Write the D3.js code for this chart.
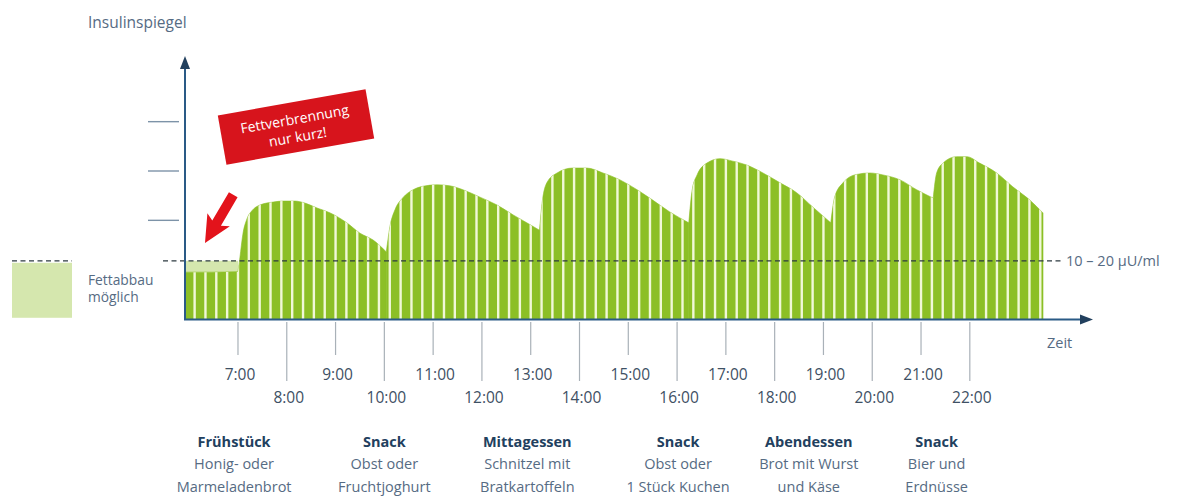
<!DOCTYPE html>
<html><head><meta charset="utf-8">
<script src="https://cdn.jsdelivr.net/npm/d3@7"></script>
<style>
html,body{margin:0;padding:0;background:#fff;}
svg{display:block;font-family:"Open Sans",Lato,sans-serif;}
</style></head>
<body>
<svg id="chart" width="1189" height="496"></svg>
<script>
// ---------- data ----------
// insulin level curve; a repeated hour marks the start of a new rise (meal)
const curveHours = [5.914, 6.45, 7.0,
  7.0, 7.04, 7.10, 7.18, 7.29, 7.45, 7.72, 7.92, 8.17, 8.37, 8.62, 8.89, 9.23, 9.50, 9.77, 10.04,
  10.04, 10.12, 10.22, 10.38, 10.59, 10.79, 11.08, 11.34, 11.61, 11.96, 12.31, 12.64, 12.92, 13.18,
  13.18, 13.24, 13.33, 13.54, 13.86, 14.15, 14.48, 14.83, 15.18, 15.50, 15.85, 16.24,
  16.24, 16.31, 16.41, 16.61, 16.88, 17.14, 17.43, 17.76, 18.11, 18.45, 18.78, 19.15,
  19.15, 19.23, 19.40, 19.48, 19.68, 19.95, 20.22, 20.57, 20.91, 21.25,
  21.25, 21.32, 21.45, 21.73, 21.94, 22.20, 22.55, 22.88, 23.23, 23.50];
const curveLevels = [0.95, 0.95, 0.96,
  0.96, 1.25, 1.72, 2.02, 2.20, 2.31, 2.37, 2.39, 2.39, 2.35, 2.25, 2.15, 1.95, 1.74, 1.60, 1.36,
  1.36, 1.90, 2.22, 2.46, 2.62, 2.69, 2.72, 2.70, 2.62, 2.47, 2.31, 2.11, 1.95, 1.80,
  1.80, 2.40, 2.76, 2.96, 3.06, 3.06, 2.96, 2.82, 2.62, 2.41, 2.17, 1.95,
  1.95, 2.62, 2.92, 3.16, 3.25, 3.20, 3.12, 2.96, 2.76, 2.56, 2.27, 1.95,
  1.95, 2.47, 2.76, 2.84, 2.93, 2.96, 2.92, 2.82, 2.62, 2.45,
  2.45, 2.96, 3.16, 3.29, 3.29, 3.16, 2.96, 2.68, 2.41, 2.15];
const tickHours = [7, 8, 9, 10, 11, 12, 13, 14, 15, 16, 17, 18, 19, 20, 21, 22];
const tickLabels = ["7:00","8:00","9:00","10:00","11:00","12:00","13:00","14:00","15:00","16:00","17:00","18:00","19:00","20:00","21:00","22:00"];
const yTicks = [2, 3, 4];
const threshold = 1.18;
const thresholdLabel = "10 – 20 µU/ml";
const mealHours = [6.92, 10.0, 12.93, 16.02, 18.7, 21.32];
const mealTitles = ["Frühstück", "Snack", "Mittagessen", "Snack", "Abendessen", "Snack"];
const mealLine1 = ["Honig- oder", "Obst oder", "Schnitzel mit", "Obst oder", "Brot mit Wurst", "Bier und"];
const mealLine2 = ["Marmeladenbrot", "Fruchtjoghurt", "Bratkartoffeln", "1 Stück Kuchen", "und Käse", "Erdnüsse"];
const stripeStep = 2 / 9; // hours between stripes

// ---------- scales ----------
const svg = d3.select("#chart");
const x = d3.scaleLinear().domain([5.914, 23.5]).range([185, 1043]);
const y = d3.scaleLinear().domain([0, 5.25]).range([319, 60]);

const GREEN = "#8cbf26", LIGHT = "#d5e7ae", STRIPE = "#f1f8d8";
const NAVY = "#2a5a86", TEXT = "#566b83", DARK = "#22405e";

// split into segments at repeated hours
const segments = [];
let cur = [];
curveHours.forEach((h, i) => {
  if (i > 0 && h === curveHours[i - 1]) { segments.push(cur); cur = []; }
  cur.push([h, curveLevels[i]]);
});
segments.push(cur);

const area = d3.area().x(d => x(d[0])).y0(y(0)).y1(d => y(d[1])).curve(d3.curveMonotoneX);
const fullPath = segments.map(s => area(s)).join(" ");

svg.append("defs").append("clipPath").attr("id", "areaClip")
  .append("path").attr("d", fullPath);

// light band (fat burning possible) at start
svg.append("rect")
  .attr("x", x(curveHours[0])).attr("width", x(7.0) - x(curveHours[0]))
  .attr("y", y(threshold)).attr("height", y(curveLevels[0]) - y(threshold))
  .attr("fill", LIGHT);

// area
svg.append("g").selectAll("path").data(segments).join("path")
  .attr("d", d => area(d)).attr("fill", GREEN)
  .attr("stroke", GREEN).attr("stroke-width", 0.6);

// stripes
const stripeHours = [];
for (let h = 7; h - stripeStep > curveHours[0]; h -= stripeStep) stripeHours.push(h - stripeStep);
for (let h = 7; h < 23.5; h += stripeStep) stripeHours.push(h);
svg.append("g").attr("clip-path", "url(#areaClip)")
  .selectAll("line").data(stripeHours).join("line")
  .attr("x1", d => x(d)).attr("x2", d => x(d))
  .attr("y1", y(5)).attr("y2", y(0))
  .attr("stroke", STRIPE).attr("stroke-width", 2.4);

// threshold dashed line
svg.append("line")
  .attr("x1", 163).attr("x2", 1063).attr("y1", y(threshold)).attr("y2", y(threshold))
  .attr("stroke", "#2d3a40").attr("stroke-width", 1.2).attr("stroke-dasharray", "5,3.5");
svg.append("text").attr("x", 1066).attr("y", y(threshold)).attr("dy", "0.35em")
  .attr("font-size", 14.5).attr("fill", TEXT).text(thresholdLabel);

// legend box
svg.append("rect").attr("x", 12).attr("y", y(threshold) + 2).attr("width", 60).attr("height", 55).attr("fill", LIGHT);
svg.append("line").attr("x1", 12).attr("x2", 72).attr("y1", y(threshold)).attr("y2", y(threshold))
  .attr("stroke", "#2d3a40").attr("stroke-width", 1.2).attr("stroke-dasharray", "5,3.5");
svg.append("text").attr("x", 88).attr("y", 285).attr("font-size", 13.8).attr("fill", TEXT).text("Fettabbau");
svg.append("text").attr("x", 88).attr("y", 302).attr("font-size", 13.8).attr("fill", TEXT).text("möglich");

// y axis ticks (short lines left of the axis)
svg.append("g").selectAll("line").data(yTicks).join("line")
  .attr("x1", 148).attr("x2", 179).attr("y1", d => y(d)).attr("y2", d => y(d))
  .attr("stroke", "#7d93a8").attr("stroke-width", 1.4);

// axes
svg.append("line").attr("x1", 185).attr("x2", 185).attr("y1", 320).attr("y2", 66)
  .attr("stroke", NAVY).attr("stroke-width", 2);
svg.append("path").attr("d", "M185,56 L180,69 L190,69 Z").attr("fill", DARK);
svg.append("line").attr("x1", 184).attr("x2", 1082).attr("y1", 319.5).attr("y2", 319.5)
  .attr("stroke", NAVY).attr("stroke-width", 2);
svg.append("path").attr("d", "M1093,319.5 L1080,314.5 L1080,324.5 Z").attr("fill", DARK);

svg.append("text").attr("x", 88).attr("y", 28).attr("font-size", 15.5).attr("fill", TEXT).text("Insulinspiegel");
svg.append("text").attr("x", 1047).attr("y", 348).attr("font-size", 14.5).attr("fill", TEXT).text("Zeit");

// x ticks
const xt = svg.append("g");
xt.selectAll("line").data(tickHours).join("line")
  .attr("x1", d => x(d)).attr("x2", d => x(d))
  .attr("y1", 322).attr("y2", (d, i) => i % 2 === 0 ? 355 : 381)
  .attr("stroke", "#a9b1b8").attr("stroke-width", 1.2);
xt.selectAll("text").data(tickHours).join("text")
  .attr("x", d => x(d) + 2).attr("y", (d, i) => i % 2 === 0 ? 379.5 : 402.5)
  .attr("text-anchor", "middle").attr("font-size", 15.5).attr("fill", "#3e5064")
  .text((d, i) => tickLabels[i]);

// meal labels
const mg = svg.append("g").attr("text-anchor", "middle");
mealHours.forEach((h, i) => {
  mg.append("text").attr("x", x(h)).attr("y", 447).attr("font-size", 14.5).attr("font-weight", "bold")
    .attr("fill", DARK).text(mealTitles[i]);
  mg.append("text").attr("x", x(h)).attr("y", 469).attr("font-size", 14.5).attr("fill", TEXT).text(mealLine1[i]);
  mg.append("text").attr("x", x(h)).attr("y", 492).attr("font-size", 14.5).attr("fill", TEXT).text(mealLine2[i]);
});

// red callout box
const rb = svg.append("g").attr("transform", "translate(296,127) rotate(-10)");
rb.append("rect").attr("x", -75).attr("y", -25).attr("width", 150).attr("height", 50).attr("fill", "#d7141c");
rb.append("text").attr("x", 0).attr("y", -3).attr("text-anchor", "middle").attr("font-size", 14)
  .attr("fill", "#fff").text("Fettverbrennung");
rb.append("text").attr("x", 0).attr("y", 15).attr("text-anchor", "middle").attr("font-size", 14)
  .attr("fill", "#fff").text("nur kurz!");

// red arrow
svg.append("path")
  .attr("transform", "translate(205,243) rotate(-59.7)")
  .attr("d", "M0,0 L27,-13 L23,-5 L56,-5 L56,5 L23,5 L27,13 Z")
  .attr("fill", "#e3131b");
</script>
</body></html>
